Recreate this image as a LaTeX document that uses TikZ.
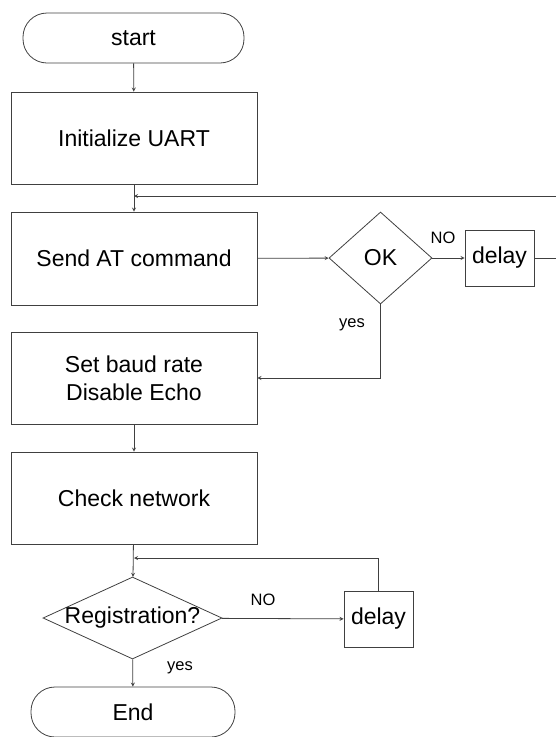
\documentclass[tikz,border=0pt]{standalone}
\usepackage{fontspec}
\setmainfont{Liberation Sans}
\usetikzlibrary{shapes.geometric}
\tikzset{
  line/.style={draw=black!75, line width=0.8pt},
  flow/.style={line, ->, >=stealth},
  box/.style={line, rectangle, minimum width=246pt, minimum height=92pt, inner sep=0pt, font=\fontsize{23}{28}\selectfont, align=center},
  term/.style={line, rectangle, rounded corners=24pt, minimum height=50pt, inner sep=0pt, font=\fontsize{23}{28}\selectfont},
  decide/.style={line, diamond, inner sep=0pt, font=\fontsize{23}{28}\selectfont},
  wait/.style={line, rectangle, minimum width=69pt, minimum height=56pt, inner sep=0pt, font=\fontsize{23}{28}\selectfont},
  tag/.style={font=\fontsize{16.5}{20}\selectfont}
}
\begin{document}
\begin{tikzpicture}[x=1pt,y=-1pt]
            \clip (0,0) rectangle (556,737);
            \useasboundingbox (0,0) rectangle (556,737);
            \node [term, minimum width=221pt] (start) at (133.5,38) {start};
            \node [box] (init) at (134,138) {Initialize UART};
            \node [box, minimum height=93pt] (send) at (134,258.5) {Send AT command};
            \node [decide, minimum width=103pt, minimum height=92pt] (ok) at (380.5,258) {\makebox[0pt]{OK}};
            \node [wait] (delayA) at (499.5,258) {delay};
            \node [box] (baud) at (134,378) {Set baud rate\\Disable Echo};
            \node [box] (check) at (134,498) {Check network};
            \node [decide, minimum width=179pt, minimum height=82pt] (reg) at (132.5,618) {\makebox[0pt]{Registration?}};
            \node [wait] (delayB) at (378.5,619) {delay};
            \node [term, minimum width=204pt] (end) at (133,712) {End};
            \coordinate (loopA) at (560,196);
            \coordinate (joinA) at (134,196);
            \coordinate (joinB) at (134,558);
            \node [tag] (noA) at (443,238) {NO};
            \node [tag] (yesA) at (352,325) {yes};
            \node [tag] (noB) at (263,600) {NO};
            \node [tag] (yesB) at (180,668) {yes};
            \draw [flow] (start) -- (init);
            \draw [flow] (init) -- (send);
            \draw [flow] (send) -- (ok);
            \draw [flow] (ok) -- (delayA);
            \draw [line] (delayA.east) -| (loopA);
            \draw [flow] (loopA) -- (joinA);
            \draw [flow] (ok.south) |- (baud.east);
            \draw [flow] (baud) -- (check);
            \draw [flow] (check) -- (reg);
            \draw [flow] (reg) -- (delayB);
            \draw [flow] (delayB.north) |- (joinB);
            \draw [flow] (reg) -- (end);
        \end{tikzpicture}
\end{document}
